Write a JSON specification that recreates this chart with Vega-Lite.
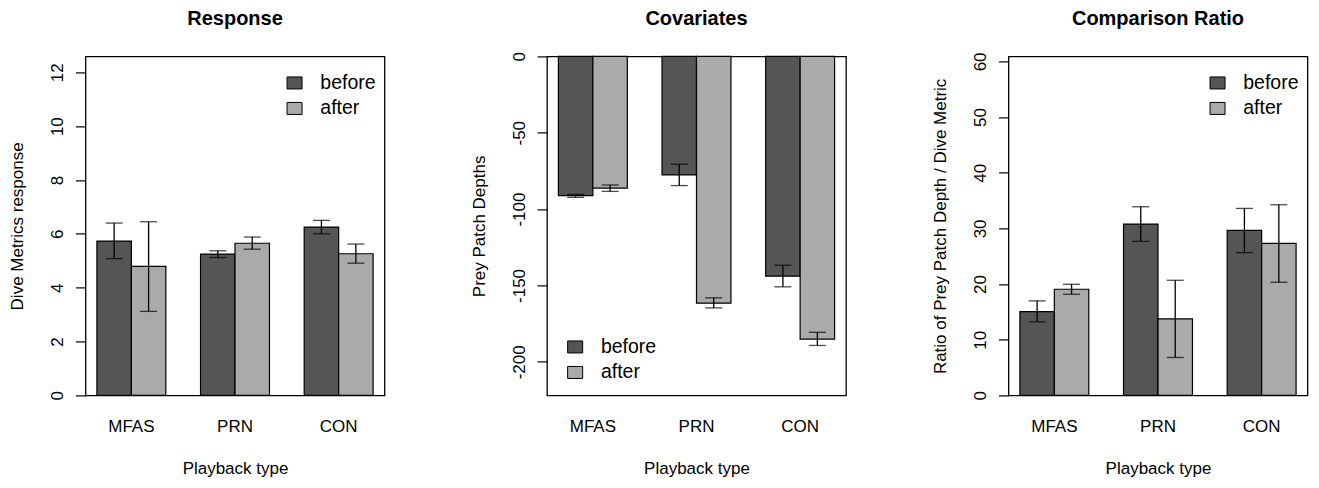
{
  "$schema": "https://vega.github.io/schema/vega-lite/v6.json",
  "padding": {"left": 7.5, "top": 7.4, "right": 5, "bottom": 5},
  "bounds": "flush",
  "spacing": 162.5,
  "datasets": {
    "bars": [
      {"panel": "Response", "type": "MFAS", "period": "before", "mean": 5.73, "lo": 5.08, "hi": 6.40},
      {"panel": "Response", "type": "MFAS", "period": "after", "mean": 4.79, "lo": 3.12, "hi": 6.45},
      {"panel": "Response", "type": "PRN", "period": "before", "mean": 5.25, "lo": 5.12, "hi": 5.37},
      {"panel": "Response", "type": "PRN", "period": "after", "mean": 5.65, "lo": 5.43, "hi": 5.88},
      {"panel": "Response", "type": "CON", "period": "before", "mean": 6.25, "lo": 6.00, "hi": 6.50},
      {"panel": "Response", "type": "CON", "period": "after", "mean": 5.26, "lo": 4.91, "hi": 5.62},
      {"panel": "Covariates", "type": "MFAS", "period": "before", "mean": -91.2, "lo": -92.3, "hi": -90.4},
      {"panel": "Covariates", "type": "MFAS", "period": "after", "mean": -86.2, "lo": -88.4, "hi": -84.2},
      {"panel": "Covariates", "type": "PRN", "period": "before", "mean": -77.6, "lo": -84.6, "hi": -70.6},
      {"panel": "Covariates", "type": "PRN", "period": "after", "mean": -161.6, "lo": -164.7, "hi": -158.1},
      {"panel": "Covariates", "type": "CON", "period": "before", "mean": -143.9, "lo": -150.9, "hi": -136.8},
      {"panel": "Covariates", "type": "CON", "period": "after", "mean": -185.1, "lo": -189.3, "hi": -180.7},
      {"panel": "Ratio", "type": "MFAS", "period": "before", "mean": 15.06, "lo": 13.21, "hi": 16.98},
      {"panel": "Ratio", "type": "MFAS", "period": "after", "mean": 19.07, "lo": 18.17, "hi": 19.96},
      {"panel": "Ratio", "type": "PRN", "period": "before", "mean": 30.78, "lo": 27.67, "hi": 33.89},
      {"panel": "Ratio", "type": "PRN", "period": "after", "mean": 13.75, "lo": 6.81, "hi": 20.68},
      {"panel": "Ratio", "type": "CON", "period": "before", "mean": 29.65, "lo": 25.64, "hi": 33.59},
      {"panel": "Ratio", "type": "CON", "period": "after", "mean": 27.32, "lo": 20.32, "hi": 34.25}
    ]
  },
  "resolve": {"scale": {"fill": "independent", "y": "independent", "x": "independent", "xOffset": "independent"}, "legend": {"fill": "independent"}},
  "hconcat": [
    {
      "width": 299, "height": 339,
      "title": {"text": "Response", "offset": 27.7},
      "data": {"name": "bars"},
      "transform": [{"filter": "datum.panel === 'Response'"}],
      "encoding": {
        "x": {"field": "type", "type": "nominal", "sort": ["MFAS", "PRN", "CON"], "scale": {"paddingInner": 0.335, "paddingOuter": 0.11}, "axis": {"title": "Playback type"}},
        "xOffset": {"field": "period", "type": "nominal", "sort": ["before", "after"], "scale": {"paddingInner": 0, "paddingOuter": 0}}
      },
      "layer": [
        {
          "mark": {"type": "bar", "stroke": "black", "strokeWidth": 1.2},
          "encoding": {
            "y": {"field": "mean", "type": "quantitative", "scale": {"domain": [0, 12.59], "nice": false}, "axis": {"values": [0, 2, 4, 6, 8, 10, 12], "title": "Dive Metrics response"}},
            "fill": {"field": "period", "type": "nominal", "sort": ["before", "after"], "scale": {"domain": ["before", "after"], "range": ["#555555", "#aaaaaa"]},
              "legend": {"orient": "none", "legendX": 199.3, "legendY": 16.8}}
          }
        },
        {"mark": {"type": "rule", "color": "black", "strokeWidth": 1.3}, "encoding": {"y": {"field": "lo", "type": "quantitative"}, "y2": {"field": "hi"}}},
        {"mark": {"type": "tick", "color": "black", "size": 17, "thickness": 1.3}, "encoding": {"y": {"field": "lo", "type": "quantitative"}}},
        {"mark": {"type": "tick", "color": "black", "size": 17, "thickness": 1.3}, "encoding": {"y": {"field": "hi", "type": "quantitative"}}}
      ]
    },
    {
      "width": 299, "height": 339,
      "title": {"text": "Covariates", "offset": 23},
      "data": {"name": "bars"},
      "transform": [{"filter": "datum.panel === 'Covariates'"}],
      "encoding": {
        "x": {"field": "type", "type": "nominal", "sort": ["MFAS", "PRN", "CON"], "scale": {"paddingInner": 0.335, "paddingOuter": 0.11}, "axis": {"title": "Playback type"}},
        "xOffset": {"field": "period", "type": "nominal", "sort": ["before", "after"], "scale": {"paddingInner": 0, "paddingOuter": 0}}
      },
      "layer": [
        {
          "mark": {"type": "bar", "stroke": "black", "strokeWidth": 1.2},
          "encoding": {
            "y": {"field": "mean", "type": "quantitative", "scale": {"domain": [-222, 0], "nice": false}, "axis": {"values": [0, -50, -100, -150, -200], "title": "Prey Patch Depths"}},
            "fill": {"field": "period", "type": "nominal", "sort": ["before", "after"], "scale": {"domain": ["before", "after"], "range": ["#555555", "#aaaaaa"]},
              "legend": {"orient": "none", "legendX": 18.4, "legendY": 280.8}}
          }
        },
        {"mark": {"type": "rule", "color": "black", "strokeWidth": 1.3}, "encoding": {"y": {"field": "lo", "type": "quantitative"}, "y2": {"field": "hi"}}},
        {"mark": {"type": "tick", "color": "black", "size": 17, "thickness": 1.3}, "encoding": {"y": {"field": "lo", "type": "quantitative"}}},
        {"mark": {"type": "tick", "color": "black", "size": 17, "thickness": 1.3}, "encoding": {"y": {"field": "hi", "type": "quantitative"}}}
      ]
    },
    {
      "width": 299, "height": 339,
      "title": {"text": "Comparison Ratio", "offset": 23},
      "data": {"name": "bars"},
      "transform": [{"filter": "datum.panel === 'Ratio'"}],
      "encoding": {
        "x": {"field": "type", "type": "nominal", "sort": ["MFAS", "PRN", "CON"], "scale": {"paddingInner": 0.335, "paddingOuter": 0.11}, "axis": {"title": "Playback type"}},
        "xOffset": {"field": "period", "type": "nominal", "sort": ["before", "after"], "scale": {"paddingInner": 0, "paddingOuter": 0}}
      },
      "layer": [
        {
          "mark": {"type": "bar", "stroke": "black", "strokeWidth": 1.2},
          "encoding": {
            "y": {"field": "mean", "type": "quantitative", "scale": {"domain": [0, 60.9], "nice": false}, "axis": {"values": [0, 10, 20, 30, 40, 50, 60], "title": "Ratio of Prey Patch Depth / Dive Metric"}},
            "fill": {"field": "period", "type": "nominal", "sort": ["before", "after"], "scale": {"domain": ["before", "after"], "range": ["#555555", "#aaaaaa"]},
              "legend": {"orient": "none", "legendX": 199.3, "legendY": 16.8}}
          }
        },
        {"mark": {"type": "rule", "color": "black", "strokeWidth": 1.3}, "encoding": {"y": {"field": "lo", "type": "quantitative"}, "y2": {"field": "hi"}}},
        {"mark": {"type": "tick", "color": "black", "size": 17, "thickness": 1.3}, "encoding": {"y": {"field": "lo", "type": "quantitative"}}},
        {"mark": {"type": "tick", "color": "black", "size": 17, "thickness": 1.3}, "encoding": {"y": {"field": "hi", "type": "quantitative"}}}
      ]
    }
  ],
  "config": {
    "font": "Liberation Sans",
    "background": "white",
    "view": {"stroke": "black", "strokeWidth": 1.3},
    "title": {"fontSize": 20, "fontWeight": "bold", "color": "black", "anchor": "middle", "frame": "group", "baseline": "alphabetic"},
    "axis": {"grid": false, "labelColor": "black", "titleColor": "black", "titleFontWeight": "normal", "labelFontSize": 17, "titleFontSize": 17, "labelOverlap": false},
    "axisX": {"domain": false, "ticks": false, "tickSize": 0, "labelAngle": 0, "labelPadding": 36.4, "labelBaseline": "alphabetic", "titleY": 77.7, "titleBaseline": "alphabetic"},
    "axisY": {"domain": false, "ticks": true, "tickSize": 10, "tickColor": "black", "tickWidth": 1.2, "labelAngle": -90, "labelAlign": "center", "labelBaseline": "alphabetic", "labelPadding": 12.7, "titleX": -63, "titleBaseline": "alphabetic", "labelExpr": "toString(datum.value)"},
    "legend": {"title": null, "padding": 0, "symbolType": "M-1,-0.8H1V0.8H-1Z", "symbolSize": 225, "symbolStrokeColor": "black", "symbolStrokeWidth": 1, "labelFontSize": 19.5, "labelColor": "black", "labelOffset": 16, "rowPadding": 4.5, "symbolOpacity": 1}
  }
}
